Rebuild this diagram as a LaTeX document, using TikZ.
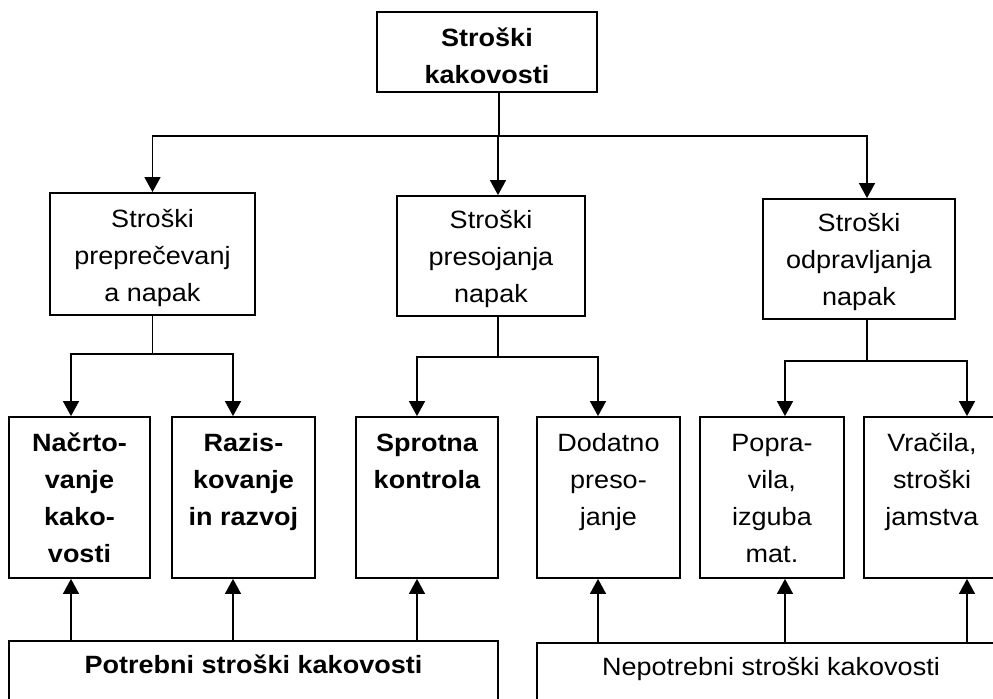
\documentclass[tikz,border=0pt]{standalone}
\usepackage{fontspec}
\setmainfont{Liberation Sans}[FakeStretch=1.08]
\usetikzlibrary{arrows.meta,positioning}

\begin{document}
\begin{tikzpicture}[x=0.5pt,y=0.5pt,
    font=\fontsize{12.5}{18.5}\selectfont,
    boldtxt/.style={font=\fontsize{12.5}{18.5}\selectfont\bfseries},
    box/.style={draw,line width=0.9pt,inner sep=0pt,align=center},
    celltxt/.style={anchor=north,inner sep=0pt,align=center},
    lnk/.style={line width=0.7pt},
    arr/.style={lnk,-{Triangle[length=7.5pt,width=8pt]}}]
  \clip (0,0) rectangle (993,-699);
  % vrh
  \node[box,minimum width=110pt,minimum height=40pt] (top) at (487,-52) {};
  \node[celltxt,boldtxt] (topt) at ([yshift=-4.5pt]top.north) {\strut Stroški\\kakovosti};
  % druga raven
  \node[box,minimum width=102.5pt,minimum height=61pt] (l2a) at (152.5,-254) {};
  \node[celltxt] (l2at) at ([yshift=-4.5pt]l2a.north) {\strut Stroški\\preprečevanj\\a napak};
  \node[box,minimum width=94pt,minimum height=60pt] (l2b) at (491,-256) {};
  \node[celltxt] (l2bt) at ([yshift=-3.5pt]l2b.north) {\strut Stroški\\presojanja\\napak};
  \node[box,minimum width=96pt,minimum height=60pt] (l2c) at (859,-259) {};
  \node[celltxt] (l2ct) at ([yshift=-3.5pt]l2c.north) {\strut Stroški\\odpravljanja\\napak};
  % tretja raven
  \foreach \n/\cx/\w in {b1/79.5/70.5,b2/243.5/71.5,b3/427/71,b4/608.5/71.5,b5/772/72,b6/932/68}
    \node[box,minimum width=\w pt,minimum height=80.5pt] (\n) at (\cx,-497.5) {};
  \node[celltxt,boldtxt] (t1) at ([yshift=-4.5pt]b1.north) {\strut Načrto-\\vanje\\kako-\\vosti};
  \node[celltxt,boldtxt] (t2) at ([yshift=-4.5pt]b2.north) {\strut Razis-\\kovanje\\in razvoj};
  \node[celltxt,boldtxt] (t3) at ([yshift=-4.5pt]b3.north) {\strut Sprotna\\kontrola};
  \node[celltxt] (t4) at ([yshift=-4.5pt]b4.north) {\strut Dodatno\\preso-\\janje};
  \node[celltxt] (t5) at ([yshift=-4.5pt]b5.north) {\strut Popra-\\vila,\\izguba\\mat.};
  \node[celltxt] (t6) at ([yshift=-4.5pt]b6.north) {\strut Vračila,\\stroški\\jamstva};
  % spodaj
  \node[box,boldtxt,anchor=north,minimum width=244.5pt,text height=9pt,text depth=25pt,inner ysep=7.5pt] (pot) at (253.5,-640) {Potrebni stroški kakovosti};
  \node[box,anchor=north,minimum width=234pt,text height=9pt,text depth=25pt,inner ysep=7.5pt] (nep) at (771,-642) {Nepotrebni stroški kakovosti};
  % povezave
  \draw[lnk] ([xshift=6pt]top.south) -- ++(0,-43) coordinate (hub);
  \draw[arr] (hub) -| (l2a.north);
  \draw[arr] (hub) -| ([xshift=3.5pt]l2b.north);
  \draw[arr] (hub) -| ([xshift=4pt]l2c.north);
  \draw[lnk] (l2a.south) -- ++(0,-38) coordinate (ha);
  \draw[arr] (ha) -| ([xshift=-4.25pt]b1.north);
  \draw[arr] (ha) -| ([xshift=-5.25pt]b2.north);
  \draw[lnk] ([xshift=3.5pt]l2b.south) -- ++(0,-40) coordinate (hb);
  \draw[arr] (hb) -| ([xshift=-5pt]b3.north);
  \draw[arr] (hb) -| ([xshift=-5.25pt]b4.north);
  \draw[lnk] ([xshift=4pt]l2c.south) -- ++(0,-41) coordinate (hc);
  \draw[arr] (hc) -| ([xshift=6.5pt]b5.north);
  \draw[arr] (hc) -| ([xshift=17.5pt]b6.north);
  \foreach \b/\dx in {b1/-4.25,b2/-5.25,b3/-5}
    \draw[arr] ([xshift=\dx pt]\b.south |- pot.north) -- ([xshift=\dx pt]\b.south);
  \foreach \b/\dx in {b4/-5.25,b5/6.5,b6/17.5}
    \draw[arr] ([xshift=\dx pt]\b.south |- nep.north) -- ([xshift=\dx pt]\b.south);
\end{tikzpicture}
\end{document}
